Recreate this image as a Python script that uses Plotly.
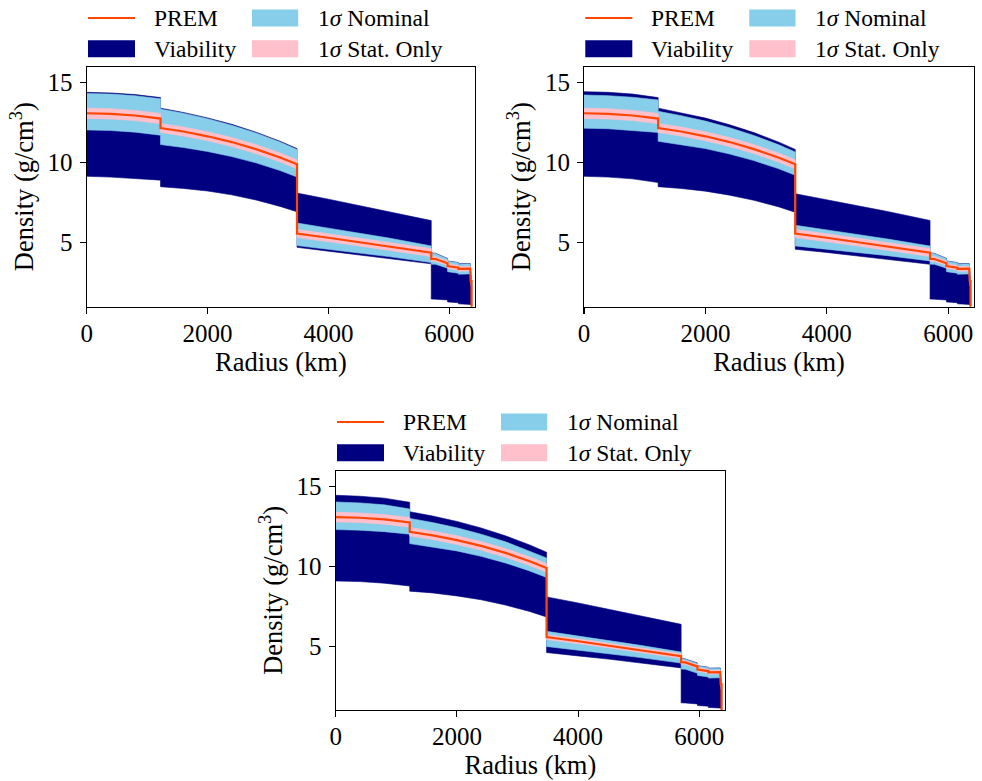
import plotly.graph_objects as go

# ---------------- data ----------------
radius_km = [0, 400, 800, 1221.5,
             1221.5, 1600, 2000, 2400, 2800, 3200, 3480,
             3480, 4000, 4500, 5000, 5701,
             5701, 5771, 5971,
             5971, 6151,
             6151, 6346.6,
             6346.6, 6356,
             6356, 6368,
             6368, 6371]

prem_density = [13.09, 13.05, 12.95, 12.76,
                12.17, 11.95, 11.65, 11.29, 10.85, 10.33, 9.90,
                5.57, 5.31, 5.05, 4.79, 4.38,
                3.99, 3.98, 3.72,
                3.54, 3.44,
                3.36, 3.38,
                2.90, 2.90,
                2.60, 2.60,
                1.02, 1.02]

# panel 1 (top left)
p1_viab_hi = [14.40, 14.36, 14.26, 14.07,
              13.41, 13.14, 12.80, 12.40, 11.91, 11.34, 10.88,
              8.10, 7.72, 7.34, 6.96, 6.38,
              4.36, 4.34, 4.02,
              3.86, 3.76,
              3.68, 3.70,
              3.22, 3.22,
              2.92, 2.92,
              1.30, 1.30]
p1_viab_lo = [9.15, 9.10, 9.02, 8.91,
              8.50, 8.39, 8.23, 7.99, 7.67, 7.27, 6.93,
              4.71, 4.47, 4.23, 3.99, 3.68,
              1.48, 1.47, 1.42,
              1.30, 1.25,
              1.18, 1.14,
              1.12, 1.12,
              1.10, 1.10,
              1.00, 1.00]
p1_nom_hi = [14.33, 14.29, 14.19, 14.00,
             13.35, 13.09, 12.75, 12.34, 11.86, 11.29, 10.83,
             6.23, 5.91, 5.60, 5.29, 4.80,
             4.34, 4.32, 4.00,
             3.84, 3.74,
             3.66, 3.68,
             3.20, 3.20,
             2.90, 2.90,
             1.30, 1.30]
p1_nom_lo = [12.05, 12.01, 11.91, 11.72,
             11.13, 10.95, 10.70, 10.38, 9.99, 9.51, 9.11,
             4.82, 4.59, 4.36, 4.13, 3.76,
             3.66, 3.65, 3.41,
             3.19, 3.09,
             3.03, 3.05,
             2.60, 2.60,
             2.30, 2.30,
             1.00, 1.00]
p1_stat_hi = [13.41, 13.37, 13.27, 13.08,
              12.45, 12.23, 11.93, 11.57, 11.13, 10.61, 10.18,
              5.82, 5.56, 5.30, 5.04, 4.63,
              4.14, 4.13, 3.87,
              3.69, 3.59,
              3.51, 3.53,
              3.05, 3.05,
              2.75, 2.75,
              1.15, 1.15]
p1_stat_lo = [12.77, 12.73, 12.63, 12.44,
              11.89, 11.67, 11.37, 11.01, 10.57, 10.05, 9.62,
              5.32, 5.06, 4.80, 4.54, 4.13,
              3.84, 3.83, 3.57,
              3.39, 3.29,
              3.21, 3.23,
              2.75, 2.75,
              2.45, 2.45,
              1.00, 1.00]

# panel 2 (top right)
p2_viab_hi = [14.44, 14.40, 14.29, 14.07,
              13.41, 13.13, 12.79, 12.37, 11.88, 11.30, 10.83,
              8.06, 7.69, 7.32, 6.95, 6.39,
              4.36, 4.34, 4.02,
              3.86, 3.76,
              3.68, 3.70,
              3.22, 3.22,
              2.92, 2.92,
              1.30, 1.30]
p2_viab_lo = [9.15, 9.10, 8.99, 8.76,
              8.50, 8.39, 8.22, 7.97, 7.65, 7.25, 6.90,
              4.59, 4.39, 4.18, 3.97, 3.65,
              1.48, 1.47, 1.42,
              1.30, 1.25,
              1.18, 1.14,
              1.12, 1.12,
              1.10, 1.10,
              1.00, 1.00]
p2_nom_hi = [14.23, 14.19, 14.09, 13.92,
             13.21, 12.94, 12.60, 12.19, 11.70, 11.13, 10.67,
             6.09, 5.80, 5.52, 5.23, 4.79,
             4.34, 4.32, 4.00,
             3.84, 3.74,
             3.66, 3.68,
             3.20, 3.20,
             2.90, 2.90,
             1.30, 1.30]
p2_nom_lo = [12.16, 12.12, 12.03, 11.89,
             11.34, 11.14, 10.88, 10.54, 10.13, 9.63, 9.22,
             4.80, 4.60, 4.39, 4.19, 3.86,
             3.66, 3.65, 3.41,
             3.19, 3.09,
             3.03, 3.05,
             2.60, 2.60,
             2.30, 2.30,
             1.00, 1.00]
p2_stat_hi = list(p1_stat_hi)
p2_stat_lo = list(p1_stat_lo)

# panel 3 (bottom)
p3_viab_hi = [14.46, 14.40, 14.28, 14.02,
              13.43, 13.16, 12.82, 12.41, 11.92, 11.35, 10.89,
              8.09, 7.71, 7.33, 6.95, 6.37,
              4.21, 4.20, 3.94,
              3.78, 3.68,
              3.62, 3.64,
              3.22, 3.22,
              2.92, 2.92,
              1.30, 1.30]
p3_viab_lo = [9.09, 9.05, 8.95, 8.77,
              8.45, 8.34, 8.15, 7.91, 7.58, 7.18, 6.83,
              4.60, 4.39, 4.19, 3.98, 3.64,
              1.45, 1.44, 1.38,
              1.28, 1.24,
              1.16, 1.12,
              1.12, 1.12,
              1.10, 1.10,
              1.00, 1.00]
p3_nom_hi = [14.04, 13.98, 13.86, 13.60,
             13.01, 12.75, 12.42, 12.02, 11.55, 10.98, 10.53,
             5.93, 5.64, 5.36, 5.07, 4.63,
             4.19, 4.18, 3.92,
             3.76, 3.66,
             3.60, 3.62,
             3.20, 3.20,
             2.90, 2.90,
             1.30, 1.30]
p3_nom_lo = [12.31, 12.27, 12.18, 12.02,
             11.43, 11.23, 10.97, 10.63, 10.22, 9.72, 9.31,
             4.98, 4.76, 4.53, 4.30, 3.94,
             3.57, 3.56, 3.30,
             3.17, 3.07,
             3.00, 3.02,
             2.60, 2.60,
             2.30, 2.30,
             1.00, 1.00]
p3_stat_hi = [13.39, 13.35, 13.25, 13.06,
              12.44, 12.22, 11.92, 11.56, 11.12, 10.60, 10.17,
              5.72, 5.46, 5.20, 4.94, 4.53,
              4.11, 4.10, 3.84,
              3.66, 3.56,
              3.48, 3.50,
              3.05, 3.05,
              2.75, 2.75,
              1.15, 1.15]
p3_stat_lo = [12.79, 12.75, 12.65, 12.46,
              11.90, 11.68, 11.38, 11.02, 10.58, 10.06, 9.63,
              5.42, 5.16, 4.90, 4.64, 4.23,
              3.87, 3.86, 3.60,
              3.42, 3.32,
              3.24, 3.26,
              2.75, 2.75,
              2.45, 2.45,
              1.00, 1.00]

x_ticks = [0, 2000, 4000, 6000]
y_ticks = [5, 10, 15]
legend_labels = ["PREM", "Viability", "1<i>σ</i> Nominal", "1<i>σ</i> Stat. Only"]

# ---------------- styling ----------------
W, H = 982, 781
NAVY = "#000080"
SKY = "#87CEEB"
PINK = "#FFC0CB"
PREM_C = "#FF4500"
FONT = "Liberation Serif"

# plot areas in pixels: (left, top, right, bottom)
panels_px = [(86.7, 66.7, 475.0, 306.7),
             (584.0, 66.7, 974.0, 306.7),
             (335.7, 470.7, 725.0, 710.0)]

panel_data = [
    (p1_viab_hi, p1_viab_lo, p1_nom_hi, p1_nom_lo, p1_stat_hi, p1_stat_lo),
    (p2_viab_hi, p2_viab_lo, p2_nom_hi, p2_nom_lo, p2_stat_hi, p2_stat_lo),
    (p3_viab_hi, p3_viab_lo, p3_nom_hi, p3_nom_lo, p3_stat_hi, p3_stat_lo),
]


def px_x(v):
    return v / W


def px_y(v):
    return 1 - v / H


fig = go.Figure()
layout = dict(
    width=W, height=H,
    margin=dict(l=0, r=0, t=0, b=0, pad=0, autoexpand=False),
    paper_bgcolor="white", plot_bgcolor="white",
    font=dict(family=FONT, size=25, color="black"),
    showlegend=False,
)

shapes = []
annotations = []

for i, ((L, T, Rr, B), bands) in enumerate(zip(panels_px, panel_data)):
    n = "" if i == 0 else str(i + 1)
    xa, ya = "x" + n, "y" + n
    vh, vl, nh, nl, sh, sl = bands
    for hi, lo, col in [(vh, vl, NAVY), (nh, nl, SKY), (sh, sl, PINK)]:
        fig.add_trace(go.Scatter(
            x=radius_km + radius_km[::-1],
            y=hi + lo[::-1],
            fill="toself", fillcolor=col, mode="lines",
            line=dict(color=col, width=0.6),
            hoverinfo="skip", xaxis=xa, yaxis=ya))
    fig.add_trace(go.Scatter(
        x=radius_km, y=prem_density, mode="lines",
        line=dict(color=PREM_C, width=2.2),
        hoverinfo="skip", xaxis=xa, yaxis=ya))

    axis_common = dict(
        showgrid=False, zeroline=False, showline=True, mirror=True,
        linecolor="black", linewidth=1.1, ticks="outside", ticklen=6,
        tickwidth=1.1, tickcolor="black", automargin=False,
        tickfont=dict(family=FONT, size=25, color="black"),
    )
    layout["xaxis" + n] = dict(
        axis_common, domain=[px_x(L), px_x(Rr)], anchor=ya,
        range=[0, 6425], tickvals=x_ticks, ticklabelstandoff=-2,
        title=dict(text="Radius (km)", standoff=2,
                   font=dict(family=FONT, size=26.5, color="black")))
    layout["yaxis" + n] = dict(
        axis_common, domain=[px_y(B), px_y(T)], anchor=xa,
        range=[1, 16], tickvals=y_ticks, ticklabelstandoff=2,
        title=dict(text="Density (g/cm<sup>3</sup>)", standoff=6,
                   font=dict(family=FONT, size=26.5, color="black")))

    # legend (drawn manually, 2 x 2 layout)
    r1, r2 = T - 48.7, T - 18.0
    c1a, c1b, c1t = L + 1.3, L + 48.3, L + 65.3
    c2a, c2b, c2t = L + 165.3, L + 211.5, L + 229.3
    shapes.append(dict(type="line", xref="paper", yref="paper",
                       x0=px_x(c1a), x1=px_x(c1b), y0=px_y(r1), y1=px_y(r1),
                       line=dict(color=PREM_C, width=2)))
    for (xa0, xa1, yc, col) in [(c1a, c1b, r2, NAVY), (c2a, c2b, r1, SKY), (c2a, c2b, r2, PINK)]:
        shapes.append(dict(type="rect", xref="paper", yref="paper",
                           x0=px_x(xa0), x1=px_x(xa1),
                           y0=px_y(yc + 8.5), y1=px_y(yc - 8.5),
                           fillcolor=col, line=dict(width=0)))
    for (tx, ty, txt) in [(c1t, r1, legend_labels[0]), (c1t, r2, legend_labels[1]),
                          (c2t, r1, legend_labels[2]), (c2t, r2, legend_labels[3])]:
        annotations.append(dict(x=px_x(tx), y=px_y(ty), xref="paper", yref="paper",
                                text=txt, showarrow=False, xanchor="left", yanchor="middle",
                                font=dict(family=FONT, size=23.5, color="black")))

layout["shapes"] = shapes
layout["annotations"] = annotations
fig.update_layout(**layout)
fig.write_html("out.html",
               config={"displayModeBar": False, "staticPlot": True},
               post_script="document.body.style.margin='0';document.body.style.overflow='hidden';")
